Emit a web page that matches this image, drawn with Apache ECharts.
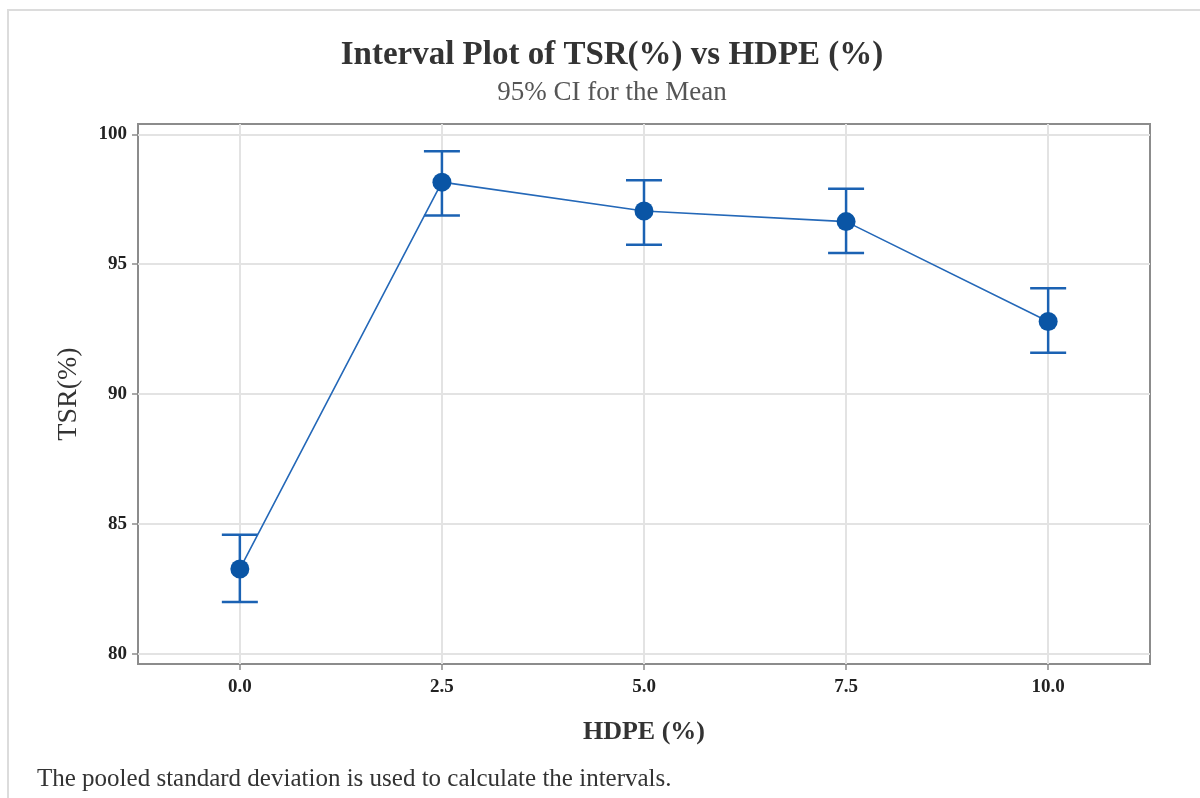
<!DOCTYPE html>
<html>
<head>
<meta charset="utf-8">
<title>Interval Plot of TSR(%) vs HDPE (%)</title>
<script src="https://cdn.jsdelivr.net/npm/echarts@6/dist/echarts.min.js"></script>
<style>
  html, body { margin: 0; padding: 0; background: #fff; }
  #chart { width: 1200px; height: 798px; }
</style>
</head>
<body>
<div id="chart"></div>
<script>
// HDPE levels and TSR(%) means with 95% CI bounds
const hdpe = [0.0, 2.5, 5.0, 7.5, 10.0]
const tsrMean = [83.26, 98.16, 97.05, 96.64, 92.79]
const ciUpper = [84.58, 99.35, 98.23, 97.91, 94.07]
const ciLower = [81.99, 96.88, 95.75, 95.43, 91.59]
const xTicks = [0, 2.5, 5, 7.5, 10]
const yTicks = [80, 85, 90, 95, 100]

const serif = '"Liberation Serif", "Times New Roman", serif'
const blue = '#0a55a5'

const chart = echarts.init(document.getElementById('chart'))

const intervals = hdpe.map((x, i) => [x, ciLower[i], ciUpper[i]])

chart.setOption({
  animation: false,
  title: {
    text: 'Interval Plot of TSR(%) vs HDPE (%)',
    subtext: '95% CI for the Mean',
    left: 607,
    textAlign: 'center',
    top: 34,
    itemGap: 7,
    textStyle: {
      fontFamily: serif,
      fontSize: 33,
      fontWeight: 'bold',
      color: '#333'
    },
    subtextStyle: {
      fontFamily: serif,
      fontSize: 27,
      color: '#555'
    }
  },
  grid: {
    left: 138,
    right: 50,
    top: 124,
    bottom: 134,
    show: true,
    borderColor: '#8c8c8c',
    borderWidth: 2
  },
  xAxis: {
    type: 'value',
    min: -1.26,
    max: 11.26,
    name: 'HDPE (%)',
    nameLocation: 'middle',
    nameGap: 55,
    nameTextStyle: {
      fontFamily: serif,
      fontSize: 26,
      fontWeight: 'bold',
      color: '#333'
    },
    axisLine: { show: false, onZero: false },
    axisTick: {
      customValues: xTicks,
      length: 6,
      lineStyle: { color: '#8c8c8c', width: 1.5 }
    },
    axisLabel: {
      customValues: xTicks,
      formatter: v => v.toFixed(1),
      margin: 14,
      fontFamily: serif,
      fontSize: 19,
      fontWeight: 'bold',
      color: '#222'
    },
    splitLine: {
      show: true,
      lineStyle: { color: '#e3e3e3', width: 2 }
    }
  },
  yAxis: {
    type: 'value',
    min: 79.6,
    max: 100.4,
    name: 'TSR(%)',
    nameLocation: 'middle',
    nameGap: 55,
    nameTextStyle: {
      fontFamily: serif,
      fontSize: 28,
      color: '#333'
    },
    axisLine: { show: false, onZero: false },
    axisTick: {
      customValues: yTicks,
      length: 6,
      lineStyle: { color: '#8c8c8c', width: 1.5 }
    },
    axisLabel: {
      customValues: yTicks,
      margin: 11,
      fontFamily: serif,
      fontSize: 19,
      fontWeight: 'bold',
      color: '#222'
    },
    splitLine: {
      show: true,
      lineStyle: { color: '#e3e3e3', width: 2 }
    }
  },
  series: [
    {
      name: 'CI',
      type: 'custom',
      data: intervals,
      z: 3,
      renderItem: (params, api) => {
        const lo = api.coord([api.value(0), api.value(1)])
        const hi = api.coord([api.value(0), api.value(2)])
        const cap = 18
        const style = { stroke: '#1b62b3', lineWidth: 2.5 }
        return {
          type: 'group',
          children: [
            { type: 'line', shape: { x1: lo[0], y1: lo[1], x2: hi[0], y2: hi[1] }, style },
            { type: 'line', shape: { x1: hi[0] - cap, y1: hi[1], x2: hi[0] + cap, y2: hi[1] }, style },
            { type: 'line', shape: { x1: lo[0] - cap, y1: lo[1], x2: lo[0] + cap, y2: lo[1] }, style }
          ]
        }
      }
    },
    {
      name: 'Mean',
      type: 'line',
      data: hdpe.map((x, i) => [x, tsrMean[i]]),
      symbol: 'circle',
      symbolSize: 19,
      z: 4,
      itemStyle: { color: blue },
      lineStyle: { color: '#2468b8', width: 1.6 }
    }
  ],
  graphic: [
    {
      type: 'polyline',
      shape: { points: [[8, 798], [8, 10], [1200, 10]] },
      style: { stroke: '#dcdcdc', lineWidth: 2, fill: null }
    },
    {
      type: 'text',
      left: 37,
      top: 767,
      style: {
        text: 'The pooled standard deviation is used to calculate the intervals.',
        fontFamily: serif,
        fontSize: 25,
        fill: '#333'
      }
    }
  ]
})
</script>
</body>
</html>
